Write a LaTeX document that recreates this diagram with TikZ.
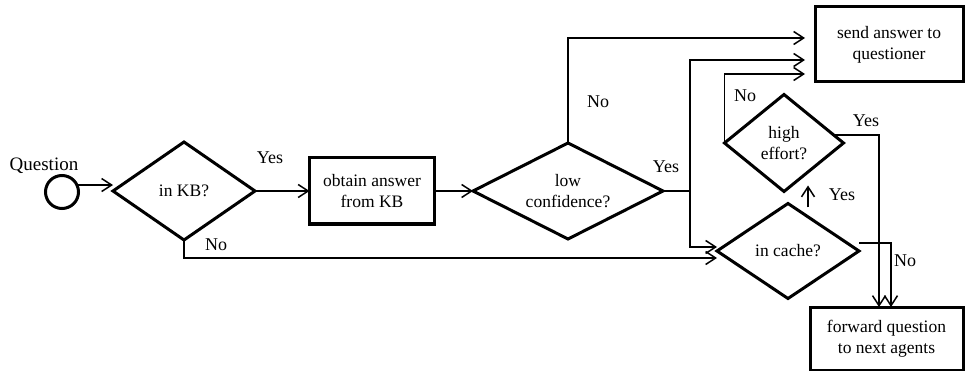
\documentclass[tikz,border=0pt]{standalone}
\usepackage{fontspec}
\setmainfont{Liberation Serif}
\usetikzlibrary{shapes.geometric,arrows.meta,calc}
\begin{document}
\begin{tikzpicture}[x=1pt,y=-1pt,
  dia/.style={diamond, draw, line width=3pt, inner sep=0pt, outer sep=0pt},
  boxnode/.style={rectangle, draw, line width=3pt, inner sep=0pt, outer sep=0pt, align=center, font=\fontsize{17.5}{21}\selectfont},
  lbl/.style={font=\fontsize{18}{21}\selectfont, inner sep=0pt},
  conn/.style={line width=1.5pt},
  arr/.style={conn, -{Straight Barb[length=10pt,width=13pt]}},
  diatext/.style={font=\fontsize{17.5}{21}\selectfont, align=center, inner sep=0pt}
]
\useasboundingbox (0,0) rectangle (965,371);

\node[circle, draw, line width=3pt, minimum size=33pt, inner sep=0pt, outer sep=0pt] (q) at (62,192) {};
\node[lbl, font=\fontsize{19}{22}\selectfont] (qt) at (44,166) {Question};
\node[dia, minimum width=142pt, minimum height=98pt, label={[diatext]center:in KB?}] (kb) at (184,191) {};
\node[boxnode, minimum width=125pt, minimum height=66pt] (ob) at (372,191) {obtain answer\\from KB};
\node[dia, minimum width=190pt, minimum height=96pt, label={[diatext]center:low\\confidence?}] (lc) at (568,191) {};
\node[boxnode, minimum width=148pt, minimum height=75pt] (sa) at (889,44.5) {send answer to\\questioner};
\node[dia, minimum width=119pt, minimum height=97pt, label={[diatext]center:high\\effort?}] (hi) at (784,143) {};
\node[dia, minimum width=142pt, minimum height=95pt, label={[diatext]center:in cache?}] (ic) at (788,251) {};
\node[boxnode, minimum width=153pt, minimum height=63pt] (fw) at (886.5,338.5) {forward question\\to next agents};

\draw[arr] (q.25) -- (q.25 -| kb.west);
\draw[arr] (kb.east) -- (ob.west);
\draw[arr] (ob.east) -- (lc.west);
\draw[arr, shorten >=10pt] (lc.north) |- ([yshift=6.5pt]sa.west);
\coordinate (j) at ($(lc.east)+(27,0)$);
\draw[conn] (lc.east) -- (j);
\draw[arr, shorten >=10pt] (j) |- ([yshift=-15.5pt]sa.west);
\draw[arr] (j) |- ([yshift=4pt]ic.west);
\draw[arr] (kb.south) |- ([yshift=-7pt]ic.west);
\draw[arr, shorten >=10pt] (hi.west) |- ([yshift=-29.5pt]sa.west);
\draw[arr] (hi.9) -| ([xshift=-7.5pt]fw.north);
\draw[arr] ([yshift=8pt]ic.east) -| ([xshift=4.5pt]fw.north);
\draw[arr] ($(ic.north)+(20,4)$) -- ($(ic.north)+(20,-18)$);

\node[lbl] (yes1) at (270,158) {Yes};
\node[lbl] (no1) at (216,245) {No};
\node[lbl] (no2) at (598,102) {No};
\node[lbl] (yes2) at (666,167) {Yes};
\node[lbl] (no3) at (745,96) {No};
\node[lbl] (yes3) at (866,121) {Yes};
\node[lbl] (yes4) at (842,195) {Yes};
\node[lbl] (no4) at (905,261) {No};
\end{tikzpicture}
\end{document}
